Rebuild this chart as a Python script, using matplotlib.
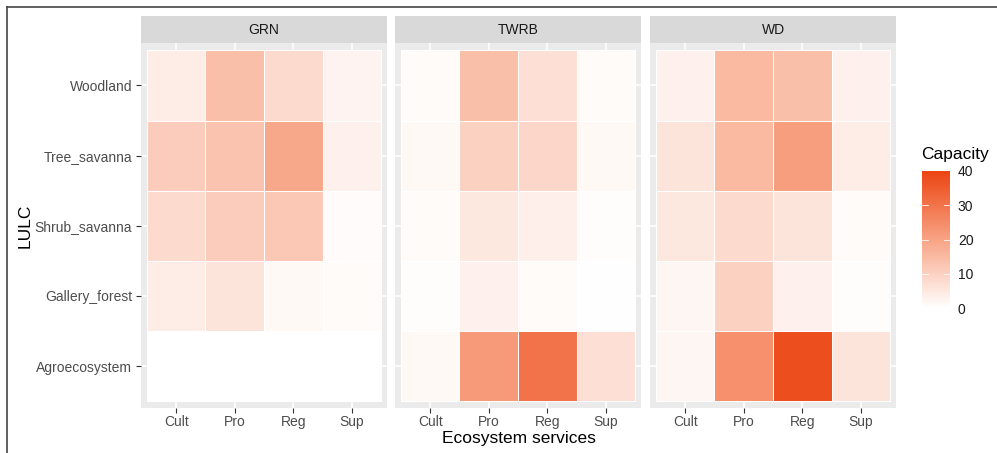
import numpy as np
import matplotlib.pyplot as plt
from matplotlib.colors import LinearSegmentedColormap, Normalize
from matplotlib.lines import Line2D

plt.rcParams['font.family'] = ['Liberation Sans', 'DejaVu Sans']

# Data
regions = ['GRN', 'TWRB', 'WD']
services = ['Cult', 'Pro', 'Reg', 'Sup']
lulc = ['Agroecosystem', 'Gallery_forest', 'Shrub_savanna', 'Tree_savanna', 'Woodland']

# rows follow lulc order (bottom to top), columns follow services
grn = [[0, 0, 0, 0],
       [4, 6, 1.5, 1],
       [8, 11, 12, 0.8],
       [11, 13, 19, 3],
       [4, 14, 8, 2.5]]
twrb = [[1.5, 22, 30, 7],
        [0.5, 3, 1, 0.3],
        [1, 5, 3.5, 0.5],
        [1.5, 10, 9, 1.5],
        [1, 14, 7, 1]]
wd = [[2, 24, 38, 6],
      [2, 10, 3, 0.5],
      [5, 8, 6, 1],
      [6, 15, 21, 4],
      [3, 15, 14, 3]]
values = [grn, twrb, wd]

cbar_ticks = [0, 10, 20, 30, 40]

# Colour scale white -> orange red, limits 0..40
cmap = LinearSegmentedColormap.from_list('cap', ['#FFFFFF', '#F8A384', '#EC4512'])
norm = Normalize(0, 40)

fig = plt.figure(figsize=(9.97, 4.53), dpi=100)
W, H = 997, 453

def fx(px):
    return px / W

def fy(py):
    return 1 - py / H

panel_left = [141.0, 395.0, 650.0]
panel_w = 246.0
top, bottom = 43.3, 408.3
strip_top = 16
pad = 0.1

edges_x = np.arange(0.5, len(services) + 1, 1)
edges_y = np.arange(0.5, len(lulc) + 1, 1)

for i, reg in enumerate(regions):
    ax = fig.add_axes([fx(panel_left[i]), fy(bottom), panel_w / W, (bottom - top) / H])
    ax.set_facecolor('#EBEBEB')
    ax.pcolormesh(edges_x, edges_y, np.array(values[i]), cmap=cmap, norm=norm,
                  edgecolors='#FFFFFF', linewidth=0.4, zorder=2)
    ax.set_xlim(0.5 - pad, len(services) + 0.5 + pad)
    ax.set_ylim(0.5 - pad, len(lulc) + 0.5 + pad)
    ax.set_xticks(range(1, len(services) + 1))
    ax.set_xticklabels(services)
    ax.set_yticks(range(1, len(lulc) + 1))
    ax.grid(True, color='white', linewidth=1.1, zorder=0)
    ax.set_axisbelow(True)
    for s in ax.spines.values():
        s.set_visible(False)
    ax.tick_params(axis='both', colors='#333333', labelcolor='#4D4D4D',
                   labelsize=10, length=3.5, width=0.8, pad=3)
    ax.tick_params(axis='x', pad=1.5)
    if i == 0:
        ax.set_yticklabels(lulc)
    else:
        ax.set_yticklabels([])
        ax.tick_params(axis='y', length=0)

    # facet strip
    sax = fig.add_axes([fx(panel_left[i]), fy(top), panel_w / W, (top - strip_top) / H])
    sax.set_facecolor('#D9D9D9')
    sax.set_xticks([])
    sax.set_yticks([])
    for s in sax.spines.values():
        s.set_visible(False)
    sax.text(0.5, 0.5, reg, ha='center', va='center', fontsize=10, color='#1A1A1A',
             transform=sax.transAxes)

# axis titles
fig.text(fx((panel_left[0] + panel_left[2] + panel_w) / 2), fy(439), 'Ecosystem services',
         ha='center', va='center', fontsize=12.5, color='#000000')
fig.text(fx(25), fy((top + bottom) / 2), 'LULC', rotation=90, ha='center', va='center',
         fontsize=12.5, color='#000000')

# colour bar
cax = fig.add_axes([fx(922), fy(308), 27.5 / W, 137 / H])
sm = plt.cm.ScalarMappable(norm=norm, cmap=cmap)
cb = fig.colorbar(sm, cax=cax, ticks=cbar_ticks)
cb.outline.set_visible(False)
cax.tick_params(length=0, labelsize=10, labelcolor='#1A1A1A', pad=6)
for t in cbar_ticks[1:-1]:
    cax.plot([0, 0.2], [t, t], color='white', lw=0.6, transform=cax.get_yaxis_transform())
    cax.plot([0.8, 1.0], [t, t], color='white', lw=0.6, transform=cax.get_yaxis_transform())
fig.text(fx(921), fy(154), 'Capacity', ha='left', va='center', fontsize=12.5, color='#000000')

# frame around the figure (top and left edges only)
fig.add_artist(Line2D([fx(7), 1], [fy(7), fy(7)], color='#444444', lw=1.2))
fig.add_artist(Line2D([fx(7), fx(7)], [fy(7), 0], color='#444444', lw=1.2))

fig.savefig('out.png', dpi=100)
